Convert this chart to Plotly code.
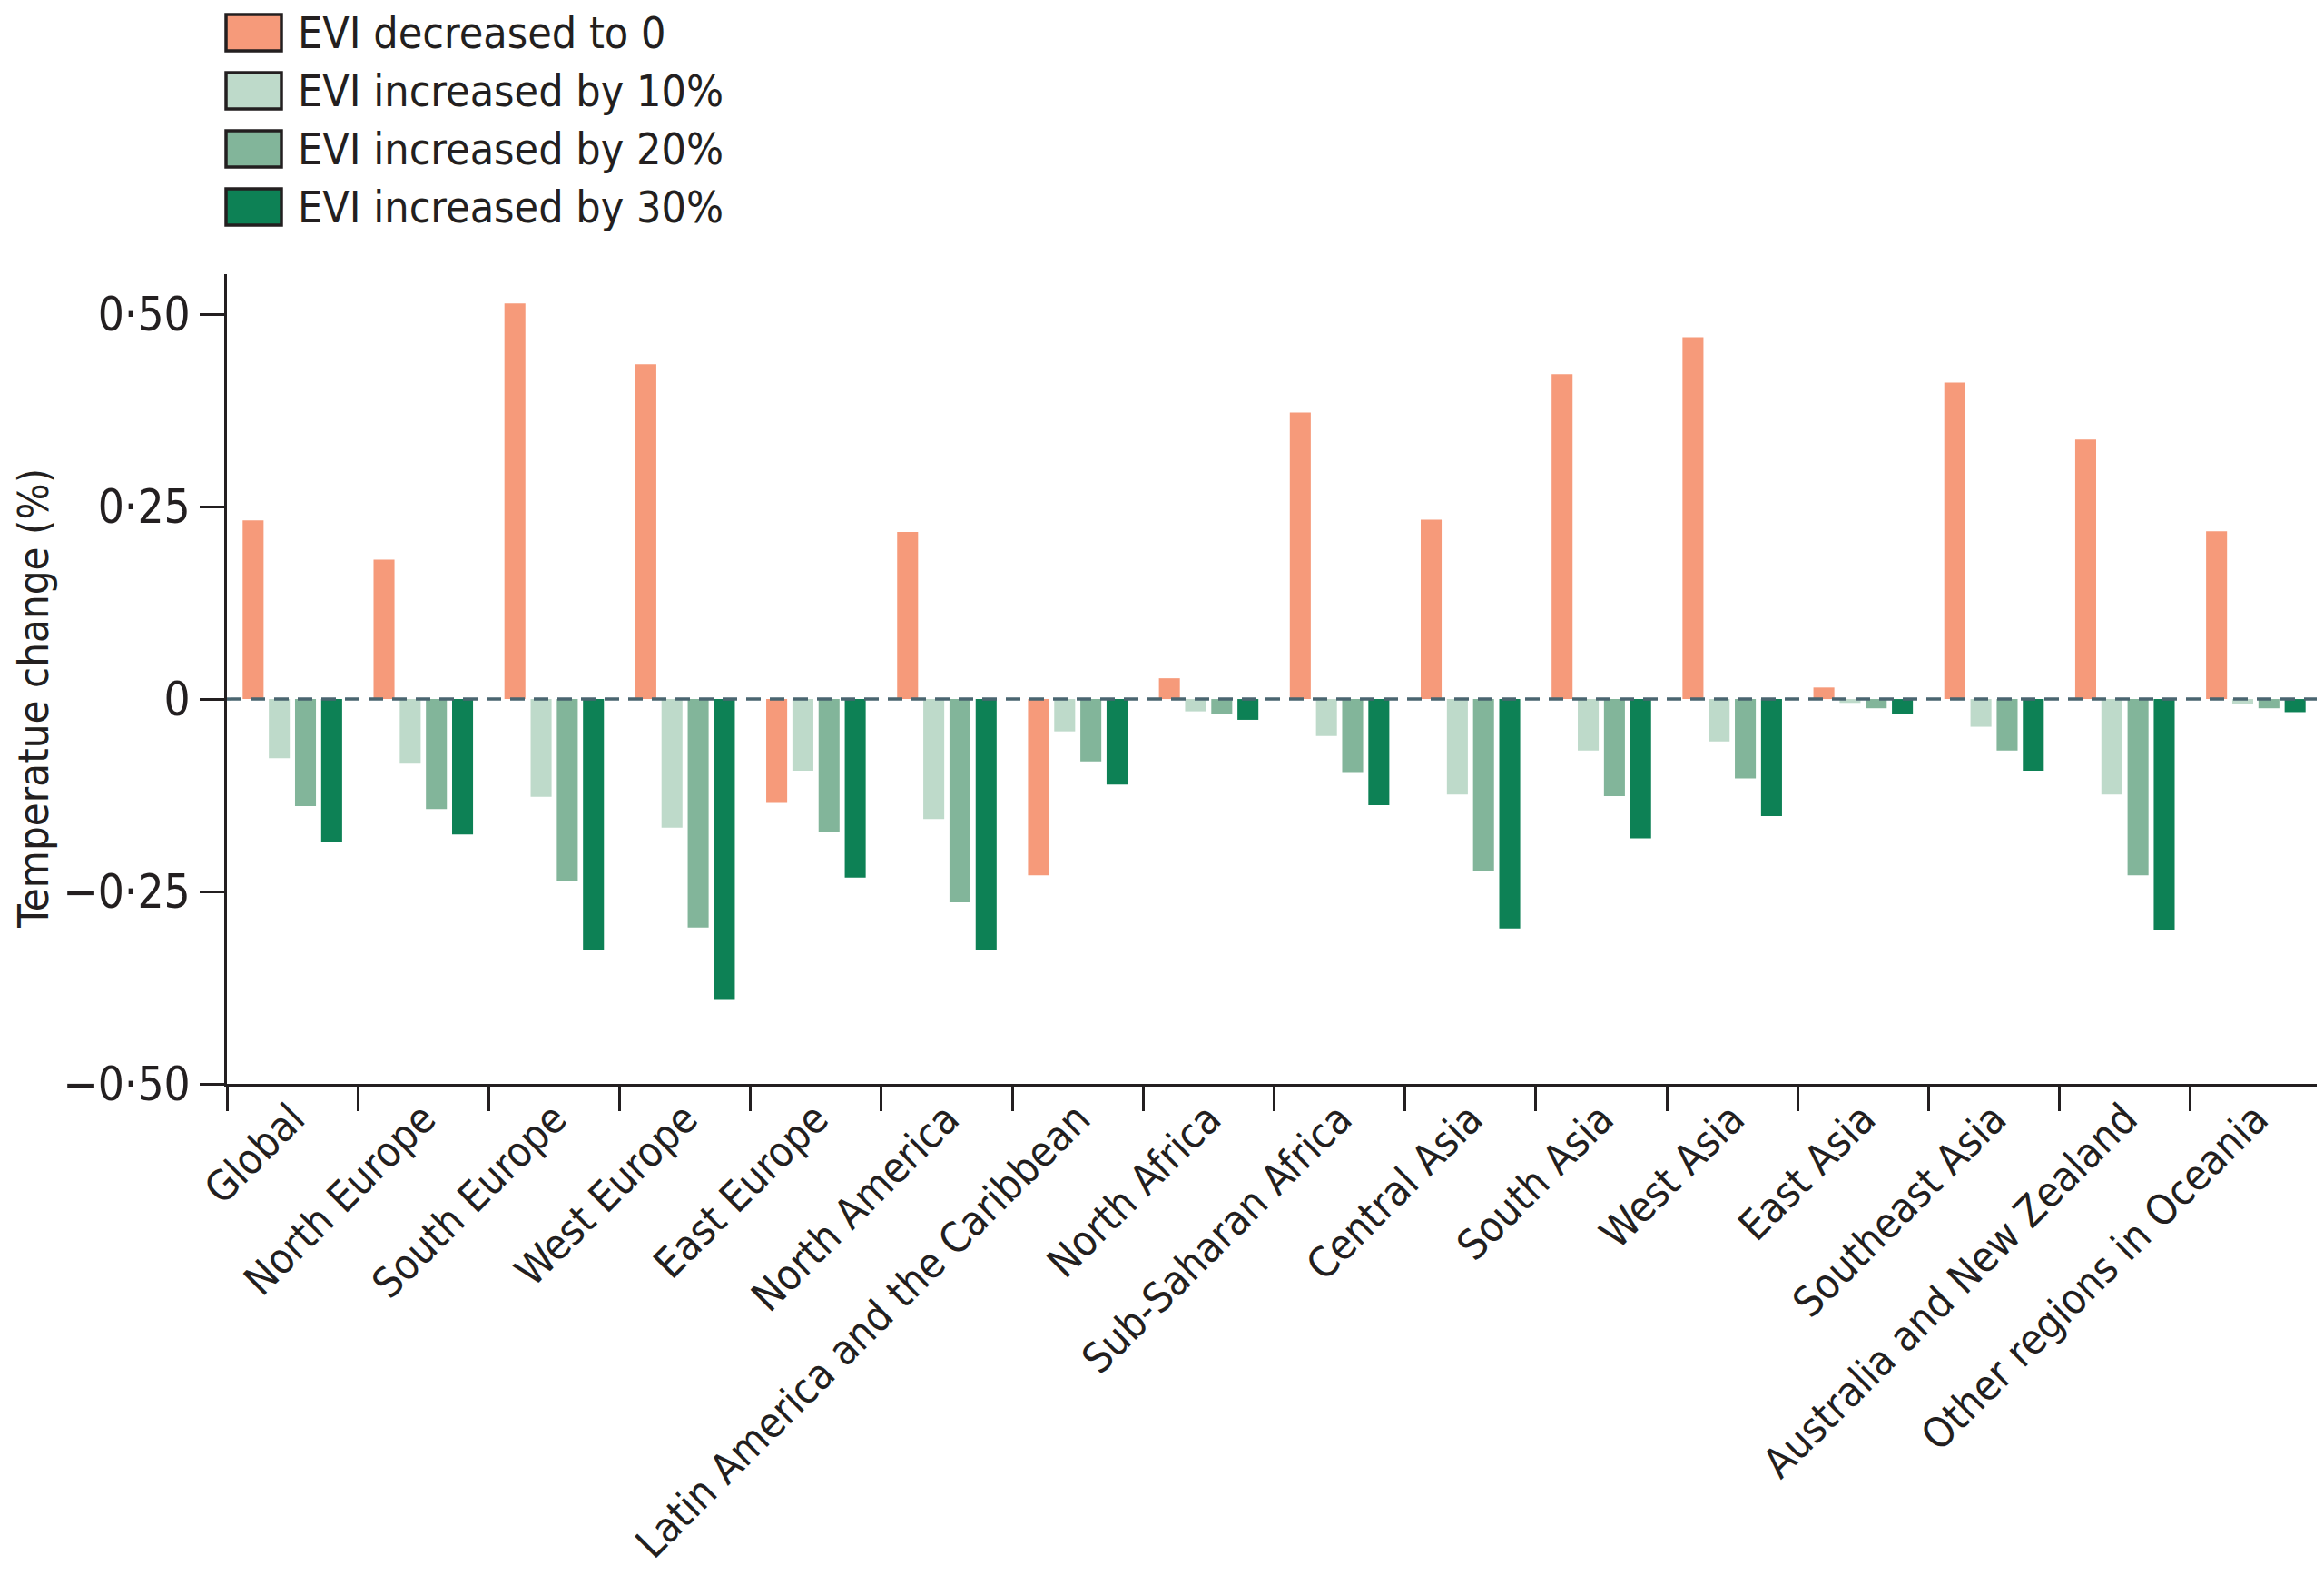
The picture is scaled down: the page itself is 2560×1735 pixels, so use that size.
import plotly.graph_objects as go

# Region names along the x axis
regions = [
    "Global", "North Europe", "South Europe", "West Europe", "East Europe",
    "North America", "Latin America and the Caribbean", "North Africa",
    "Sub-Saharan Africa", "Central Asia", "South Asia", "West Asia",
    "East Asia", "Southeast Asia", "Australia and New Zealand",
    "Other regions in Oceania",
]

# Temperature change (%) per scenario
evi_zero = [0.232, 0.181, 0.514, 0.435, -0.135, 0.217, -0.229, 0.027,
            0.372, 0.233, 0.422, 0.470, 0.015, 0.411, 0.337, 0.218]
evi_10 = [-0.077, -0.084, -0.127, -0.167, -0.093, -0.156, -0.042, -0.016,
          -0.048, -0.124, -0.067, -0.055, -0.005, -0.036, -0.124, -0.006]
evi_20 = [-0.139, -0.143, -0.236, -0.297, -0.173, -0.264, -0.081, -0.020,
          -0.095, -0.223, -0.126, -0.103, -0.012, -0.067, -0.229, -0.012]
evi_30 = [-0.186, -0.176, -0.326, -0.391, -0.232, -0.326, -0.111, -0.027,
          -0.138, -0.298, -0.181, -0.152, -0.020, -0.093, -0.300, -0.017]

series_names = ["EVI decreased to 0", "EVI increased by 10%",
                "EVI increased by 20%", "EVI increased by 30%"]
series_values = [evi_zero, evi_10, evi_20, evi_30]
colors = ["#F69A7A", "#BEDACA", "#82B59A", "#0D8155"]

y_tickvals = [-0.5, -0.25, 0, 0.25, 0.5]
y_ticktext = ["\u22120\u00b750", "\u22120\u00b725", "0", "0\u00b725", "0\u00b750"]

FONT = "Liberation Sans Narrow, DejaVu Sans Condensed, Arial Narrow, sans-serif"
INK = "#231F20"

# page body adds an 8px offset, so the margins below are shifted by that much
W, H = 2560, 1735
L, R, T, B = 242, 11, 294, 549
plot_w = W - L - R
plot_h = H - T - B


def px_x(px):
    return (px - L) / plot_w


def px_y(py):
    return (H - B - py) / plot_h


fig = go.Figure()
for name, vals, col in zip(series_names, series_values, colors):
    fig.add_trace(go.Bar(
        x=regions, y=vals, name=name,
        marker=dict(color=col, line=dict(width=0)),
        showlegend=False,
    ))

# dashed zero line drawn over the bars
fig.add_shape(type="line", xref="paper", yref="y", x0=0, x1=1, y0=0, y1=0,
              line=dict(color="#4A6570", width=3.5, dash="16px,10px"),
              layer="above")

# hand-made legend with outlined boxes
for i, (name, col) in enumerate(zip(series_names, colors)):
    mid = 28 + i * 64
    fig.add_shape(type="rect", xref="paper", yref="paper",
                  x0=px_x(241), x1=px_x(302), y0=px_y(mid - 20), y1=px_y(mid + 20),
                  fillcolor=col, line=dict(color=INK, width=3.5))
    fig.add_annotation(xref="paper", yref="paper", x=px_x(318),
                       y=px_y(mid), text=name, showarrow=False,
                       xanchor="left", yanchor="middle",
                       font=dict(size=48, family=FONT, color=INK))

# y axis title
fig.add_annotation(xref="paper", yref="y", x=px_x(28), y=0,
                   text="Temperatue change (%)", textangle=-90,
                   showarrow=False, xanchor="center", yanchor="middle",
                   font=dict(size=47, family=FONT, color=INK))

fig.update_layout(
    width=W, height=H,
    margin=dict(l=L, r=R, t=T, b=B, autoexpand=False),
    paper_bgcolor="white", plot_bgcolor="white",
    barmode="group", bargap=0.2, bargroupgap=0.2,
    font=dict(family=FONT, size=50, color=INK),
    showlegend=False,
)
fig.update_xaxes(
    type="category", range=[-0.5, 15.5], automargin=False,
    showline=True, linecolor=INK, linewidth=3,
    ticks="outside", tickson="boundaries", ticklen=27, tickwidth=3,
    tickcolor=INK, tickangle=-45, showgrid=False, zeroline=False,
    ticklabelstandoff=-10,
    tickfont=dict(size=46, family=FONT, color=INK),
)
fig.update_yaxes(
    range=[-0.5, 0.552], tickvals=y_tickvals, ticktext=y_ticktext,
    automargin=False,
    showline=True, linecolor=INK, linewidth=3,
    ticks="outside", ticklen=27, tickwidth=3, tickcolor=INK,
    showgrid=False, zeroline=False,
    tickfont=dict(size=51, family=FONT, color=INK),
)

fig.write_html("out.html")
